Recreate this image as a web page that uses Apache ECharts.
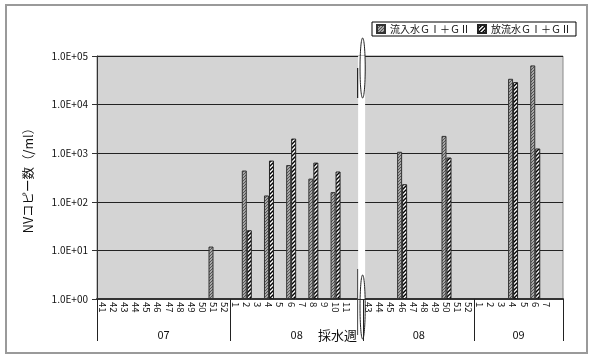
<!DOCTYPE html>
<html><head><meta charset="utf-8">
<script src="https://cdn.jsdelivr.net/npm/echarts@6/dist/echarts.min.js"></script>
<style>html,body{margin:0;padding:0;background:#fff}#c{width:590px;height:356px}</style>
</head><body><div id="c"></div>
<script>
const categories = ['41','42','43','44','45','46','47','48','49','50','51','52',
  '1','2','3','4','5','6','7','8','9','10','11','',
  '43','44','45','46','47','48','49','50','51','52',
  '1','2','3','4','5','6','7',''];
const influent = [null,null,null,null,null,null,null,null,null,null,12,null,
  null,440,null,135,null,570,null,300,null,158,null,null,
  null,null,null,1070,null,null,null,2270,null,null,
  null,null,null,34000,null,64000,null,null];
const effluent = [null,null,null,null,null,null,null,null,null,null,null,null,
  null,26,null,705,null,2000,null,640,null,420,null,null,
  null,null,null,230,null,null,null,815,null,null,
  null,null,null,29000,null,1250,null,null];
const groupLabels = ['07','08','08','09'];
const groupSizes = [12,12,10,8];
const seriesNames = ['流入水ＧⅠ＋ＧⅡ','放流水ＧⅠ＋ＧⅡ'];
const yTicks = ['1.0E+00','1.0E+01','1.0E+02','1.0E+03','1.0E+04','1.0E+05'];

const bounds = [0]; groupSizes.forEach(s => bounds.push(bounds[bounds.length-1]+s));
const centers = groupSizes.map((s,i) => bounds[i] + s/2);

function patGray(){
  const c = document.createElement('canvas'); c.width = 3; c.height = 3;
  const g = c.getContext('2d');
  g.fillStyle = '#a8a8a8'; g.fillRect(0,0,3,3);
  g.fillStyle = '#555'; g.fillRect(0,0,1,1); g.fillRect(2,1,1,1); g.fillRect(1,2,1,1);
  return c;
}
function patHatch(){
  const c = document.createElement('canvas'); c.width = 4; c.height = 4;
  const g = c.getContext('2d');
  g.fillStyle = '#fff'; g.fillRect(0,0,4,4);
  g.strokeStyle = '#000'; g.lineWidth = 1.4;
  g.beginPath(); g.moveTo(-1,5); g.lineTo(5,-1); g.stroke();
  g.beginPath(); g.moveTo(-1,1); g.lineTo(1,-1); g.stroke();
  g.beginPath(); g.moveTo(3,5); g.lineTo(5,3); g.stroke();
  return c;
}

const chart = echarts.init(document.getElementById('c'));
const font = '"Noto Sans CJK JP", "Noto Sans", sans-serif';
chart.setOption({
  animation: false,
  textStyle: { fontFamily: font },
  grid: { left: 97, right: 27, top: 56, bottom: 57, show: true,
    backgroundColor: '#d4d4d4', borderColor: '#8a8a8a', borderWidth: 1 },
  legend: {
    data: seriesNames, left: 372, top: 22,
    borderColor: '#000', borderWidth: 1, padding: [2,5,2,4],
    itemWidth: 8, itemHeight: 8, itemGap: 7, icon: 'rect',
    textStyle: { fontSize: 10, color: '#111', fontFamily: font }
  },
  xAxis: [{
    type: 'category', data: categories, position: 'bottom',
    axisLine: { lineStyle: { color: '#333', width: 2 } },
    axisTick: { interval: 0, length: 17, lineStyle: { color: '#333' } },
    axisLabel: { interval: 0, rotate: -90, fontSize: 9.5, color: '#111', margin: 3 }
  }, {
    type: 'value', min: 0, max: bounds[bounds.length-1], position: 'bottom',
    axisLine: { show: false }, splitLine: { show: false },
    axisTick: { show: true, customValues: bounds, length: 42, lineStyle: { color: '#222' } },
    axisLabel: { customValues: centers, margin: 30, fontSize: 11, color: '#111',
      formatter: v => groupLabels[centers.indexOf(v)] }
  }],
  yAxis: {
    type: 'log', logBase: 10, min: 1, max: 100000,
    name: 'NVコピー数（/ml）', nameLocation: 'middle', nameGap: 62, nameRotate: 90,
    nameTextStyle: { fontSize: 12.5, color: '#111' },
    axisLine: { show: true, lineStyle: { color: '#333', width: 1 } },
    axisTick: { show: true, length: 5, lineStyle: { color: '#333' } },
    minorTick: { show: false },
    splitLine: { show: true, lineStyle: { color: '#222', width: 1 } },
    axisLabel: { fontSize: 10, color: '#111', margin: 9,
      formatter: v => yTicks[Math.round(Math.log10(v))] }
  },
  series: [{
    name: seriesNames[0], type: 'bar', data: influent, xAxisIndex: 0,
    barWidth: 5, barGap: 0,
    itemStyle: { color: { image: patGray(), repeat: 'repeat' }, borderColor: '#333', borderWidth: 1 }
  }, {
    name: seriesNames[1], type: 'bar', data: effluent, xAxisIndex: 0,
    barWidth: 5, barGap: 0,
    itemStyle: { color: { image: patHatch(), repeat: 'repeat' }, borderColor: '#222', borderWidth: 1 }
  }]
});

// axis break decoration, positioned with the axis scale
const bx = chart.convertToPixel({ xAxisIndex: 1 }, bounds[2] - 0.15);
const yTop = chart.convertToPixel({ yAxisIndex: 0 }, 100000);
const yBot = chart.convertToPixel({ yAxisIndex: 0 }, 1);
chart.setOption({
  graphic: [
    { type: 'rect', shape: { x: 6, y: 5, width: 581, height: 348 },
      style: { fill: 'none', stroke: '#9a9a9a', lineWidth: 2 }, z: 1 },
    { type: 'rect', shape: { x: bx - 3.5, y: yTop, width: 7, height: yBot - yTop },
      style: { fill: '#fff' }, z: 50 },
    { type: 'line', shape: { x1: bx - 4, y1: yTop + 12, x2: bx - 4, y2: yTop + 42 },
      style: { stroke: '#222', lineWidth: 1.2 }, z: 51 },
    { type: 'line', shape: { x1: bx - 4, y1: yBot - 30, x2: bx - 4, y2: yBot + 36 },
      style: { stroke: '#444', lineWidth: 1 }, z: 51 },
    { type: 'ellipse', shape: { cx: bx + 1, cy: yTop + 12, rx: 2.6, ry: 30 },
      style: { fill: 'none', stroke: '#222', lineWidth: 1 }, z: 52 },
    { type: 'ellipse', shape: { cx: bx + 1, cy: yBot + 8, rx: 2.6, ry: 32 },
      style: { fill: 'none', stroke: '#222', lineWidth: 1 }, z: 52 },
    { type: 'text', left: 318, top: 329,
      style: { text: '採水週', fontSize: 13, fill: '#111', fontFamily: font }, z: 60 }
  ]
});
</script></body></html>
